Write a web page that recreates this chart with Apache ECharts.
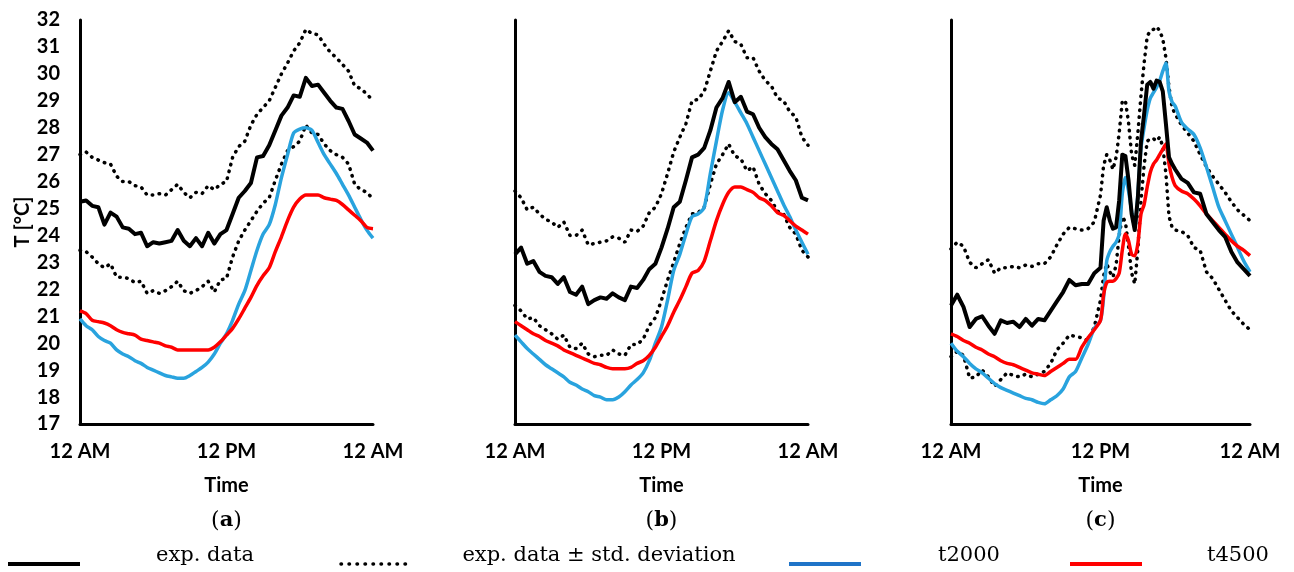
<!DOCTYPE html>
<html>
<head>
<meta charset="utf-8">
<script src="https://cdn.jsdelivr.net/npm/echarts@6/dist/echarts.min.js"></script>
<style>html,body{margin:0;padding:0;background:#fff}#c{width:1294px;height:572px}</style>
</head>
<body>
<div id="c"></div>
<script>
// ---- data ----
const hoursAB = [0,0.5,1,1.5,2,2.5,3,3.5,4,4.5,5,5.5,6,6.5,7,7.5,8,8.5,9,9.5,10,10.5,11,11.5,12,12.5,13,13.5,14,14.5,15,15.5,16,16.5,17,17.5,18,18.5,19,19.5,20,20.5,21,21.5,22,22.5,23,23.5,24];
const hoursC = [0,0.5,1,1.5,2,2.5,3,3.5,4,4.5,5,5.5,6,6.5,7,7.5,8,8.5,9,9.5,10,10.5,11,11.5,12,12.25,12.5,12.75,13,13.25,13.5,13.75,14,14.25,14.5,14.75,15,15.25,15.5,15.75,16,16.25,16.5,16.75,17,17.25,17.5,17.75,18,18.5,19,19.5,20,20.5,21,21.5,22,22.5,23,23.5,24];
const tickLabels = ['12 AM', '12 PM', '12 AM'];
const seriesNames = ['exp. data', 'exp. data ± std. deviation', 't2000', 't4500'];
const panelLetters = ['a', 'b', 'c'];
const yTicks = [17, 32, 1];

// panel (a)
const expA = [25.25,25.3,25.1,25.05,24.4,24.85,24.7,24.3,24.25,24.05,24.1,23.6,23.75,23.7,23.75,23.8,24.2,23.8,23.6,23.9,23.6,24.1,23.7,24.05,24.2,24.8,25.4,25.65,25.95,26.9,26.95,27.35,27.9,28.45,28.75,29.2,29.15,29.85,29.55,29.6,29.3,29.0,28.75,28.7,28.25,27.75,27.6,27.45,27.15];
const upperA = [27.0,27.1,26.9,26.8,26.7,26.65,26.2,26.0,26.0,25.85,25.8,25.5,25.5,25.55,25.5,25.7,25.9,25.6,25.4,25.6,25.55,25.85,25.7,25.9,26.0,26.9,27.3,27.5,28.1,28.5,28.75,29.0,29.5,30.0,30.4,30.85,31.15,31.65,31.5,31.45,31.1,30.8,30.6,30.35,30.1,29.55,29.45,29.25,29.0];
const lowerA = [23.45,23.4,23.2,22.95,22.8,22.95,22.45,22.45,22.4,22.25,22.3,21.85,21.95,21.85,21.95,22.1,22.3,21.95,21.85,21.95,22.1,22.3,21.9,22.35,22.4,23.2,23.8,24.2,24.55,24.9,25.2,25.4,26.05,26.65,27.15,27.3,27.5,28.1,27.8,27.75,27.4,27.15,27.0,26.9,26.65,25.9,25.7,25.6,25.35];
const t2000A = [20.9,20.65,20.5,20.25,20.1,20.0,19.75,19.6,19.5,19.35,19.25,19.1,19.0,18.9,18.8,18.75,18.7,18.7,18.8,18.95,19.1,19.3,19.6,20.0,20.35,20.85,21.45,21.95,22.7,23.45,24.05,24.4,25.15,26.15,27.0,27.8,27.95,28.0,27.9,27.45,27.0,26.65,26.3,25.9,25.5,25.05,24.6,24.2,23.9];
const t4500A = [21.2,21.1,20.85,20.8,20.75,20.65,20.5,20.4,20.35,20.3,20.15,20.1,20.05,20.0,19.9,19.85,19.75,19.75,19.75,19.75,19.75,19.75,19.85,20.05,20.3,20.55,20.9,21.3,21.7,22.15,22.5,22.8,23.4,23.95,24.55,25.05,25.35,25.5,25.5,25.5,25.4,25.35,25.3,25.15,24.95,24.75,24.55,24.3,24.25];

// panel (b)
const expB = [23.3,23.55,22.95,23.05,22.65,22.5,22.45,22.2,22.45,21.9,21.8,22.1,21.45,21.6,21.7,21.65,21.85,21.7,21.6,22.1,22.05,22.35,22.75,22.95,23.55,24.25,25.05,25.25,26.05,26.9,27.0,27.25,27.9,28.75,29.1,29.7,28.95,29.15,28.6,28.5,28.0,27.65,27.4,27.2,26.8,26.4,26.05,25.4,25.3];
const upperB = [25.65,25.4,24.95,25.05,24.8,24.6,24.5,24.3,24.5,24.0,24.0,24.2,23.65,23.7,23.75,23.8,23.95,23.9,23.75,24.2,24.15,24.35,24.85,25.05,25.55,26.3,27.1,27.65,28.15,29.0,29.05,29.35,30.1,30.85,31.2,31.6,31.2,31.1,30.6,30.6,30.1,29.75,29.55,29.1,29.0,28.6,28.4,27.65,27.35];
const lowerB = [21.4,21.2,20.9,20.95,20.65,20.5,20.35,20.15,20.3,19.85,19.8,20.0,19.6,19.5,19.55,19.55,19.75,19.6,19.55,19.95,19.95,20.15,20.65,20.95,21.6,22.35,23.0,23.7,24.3,24.8,24.85,25.05,25.9,26.65,27.0,27.4,26.95,26.85,26.4,26.55,25.9,25.55,25.3,24.9,24.8,24.3,24.05,23.45,23.2];
const t2000B = [20.3,20.05,19.8,19.6,19.4,19.2,19.05,18.9,18.75,18.55,18.45,18.3,18.2,18.05,18.0,17.9,17.9,18.0,18.2,18.45,18.65,18.9,19.35,20.0,20.6,21.6,22.7,23.3,24.05,24.7,24.8,25.05,26.3,27.5,28.65,29.3,28.95,28.55,28.15,27.65,27.15,26.65,26.15,25.65,25.15,24.7,24.2,23.75,23.3];
const t4500B = [20.8,20.65,20.5,20.35,20.25,20.1,20.0,19.9,19.75,19.65,19.55,19.45,19.35,19.25,19.2,19.1,19.05,19.05,19.05,19.1,19.25,19.35,19.55,19.85,20.25,20.65,21.15,21.6,22.1,22.6,22.7,23.05,23.8,24.55,25.15,25.6,25.8,25.8,25.7,25.6,25.4,25.3,25.1,24.85,24.75,24.55,24.35,24.2,24.05];

// panel (c)
const expC = [21.4,21.8,21.35,20.6,20.9,21.0,20.65,20.35,20.85,20.75,20.8,20.6,20.9,20.65,20.9,20.85,21.2,21.55,21.9,22.35,22.15,22.2,22.2,22.6,22.8,24.55,25.05,24.55,24.25,24.3,25.3,27.0,26.95,26.05,24.8,24.2,25.4,27.5,28.5,29.6,29.7,29.45,29.75,29.7,29.35,28.15,26.9,26.65,26.45,26.1,25.95,25.6,25.55,24.8,24.5,24.2,23.95,23.4,23.0,22.75,22.5];
const upperC = [23.5,23.75,23.6,23.0,22.8,22.95,23.1,22.6,22.8,22.8,22.85,22.8,22.9,22.85,22.95,22.95,23.2,23.65,24.05,24.3,24.25,24.2,24.25,24.5,25.5,26.6,27.0,26.8,26.45,26.9,27.8,29.0,29.0,28.2,27.0,26.6,27.8,29.2,30.4,31.4,31.6,31.65,31.75,31.6,31.3,30.6,29.5,28.75,28.5,28.1,27.8,27.5,27.0,26.55,26.2,25.9,25.6,25.25,24.95,24.75,24.55];
const lowerC = [19.5,19.7,19.55,18.7,18.75,19.0,18.75,18.4,18.65,18.9,18.8,18.75,18.85,18.75,18.85,18.95,19.25,19.75,20.0,20.3,20.25,20.2,20.1,20.6,21.6,22.5,22.95,22.65,22.45,22.9,24.0,24.7,24.5,23.6,22.6,22.2,23.5,25.3,26.6,27.5,27.6,27.6,27.5,27.65,27.3,26.3,24.7,24.3,24.2,24.15,24.0,23.55,23.45,22.65,22.4,22.0,21.6,21.2,20.95,20.7,20.5];
const t2000C = [20.0,19.7,19.5,19.25,19.05,18.9,18.7,18.5,18.35,18.25,18.15,18.05,17.95,17.9,17.8,17.75,17.9,18.05,18.3,18.75,18.95,19.45,19.95,20.55,20.85,21.7,23.05,23.4,23.6,23.75,24.05,25.55,26.15,25.65,24.9,24.3,25.55,27.25,28.0,28.65,29.1,29.3,29.5,29.75,30.1,30.4,29.35,28.95,28.8,28.2,27.95,27.75,27.25,26.55,25.8,25.05,24.55,24.05,23.55,23.05,22.65];
const t4500C = [20.35,20.25,20.1,20.0,19.85,19.75,19.6,19.5,19.35,19.25,19.2,19.1,19.0,18.9,18.85,18.8,18.95,19.1,19.25,19.4,19.4,19.85,20.2,20.5,20.85,21.8,22.25,22.3,22.3,22.4,22.6,23.45,24.05,23.8,23.3,23.25,23.7,24.8,25.15,25.8,26.35,26.65,26.8,27.0,27.2,27.4,26.65,26.15,25.85,25.65,25.55,25.35,25.1,24.8,24.55,24.3,24.05,23.8,23.6,23.45,23.25];

// ---- chart ----
const panels = [
  {hours: hoursAB, exp: expA, up: upperA, lo: lowerA, s1: t2000A, s2: t4500A},
  {hours: hoursAB, exp: expB, up: upperB, lo: lowerB, s1: t2000B, s2: t4500B},
  {hours: hoursC,  exp: expC, up: upperC, lo: lowerC, s1: t2000C, s2: t4500C}
];
const COLORS = {exp: '#000000', t2000: '#29a3de', t4500: '#ff0000', legendBlue: '#1f74c8'};
const TICKFONT = 'Lato, "Liberation Sans Narrow", sans-serif';
const SERIF = '"DejaVu Serif", "Liberation Serif", serif';

const gridPos = [
  {left: 80, width: 293},
  {left: 515, width: 293},
  {left: 951, width: 299}
];

const zip = (xs, ys) => xs.map((x, i) => [x, ys[i]]);

const grids = gridPos.map(g => ({left: g.left, width: g.width, top: 20, height: 404, containLabel: false}));
const xAxes = gridPos.map((g, i) => ({
  type: 'value', gridIndex: i, min: 0, max: 24, interval: 12,
  name: 'Time', nameLocation: 'middle', nameGap: 52,
  nameTextStyle: {fontFamily: TICKFONT, fontWeight: 'bold', fontSize: 20, color: '#000'},
  axisLine: {show: true, lineStyle: {color: '#000', width: 3}},
  axisTick: {show: false}, splitLine: {show: false},
  axisLabel: {
    margin: 18, color: '#000', fontFamily: TICKFONT, fontWeight: 'bold', fontSize: 20,
    formatter: v => tickLabels[Math.round(v / 12)]
  }
}));
const yAxes = gridPos.map((g, i) => ({
  type: 'value', gridIndex: i, min: yTicks[0], max: yTicks[1], interval: yTicks[2],
  name: i === 0 ? 'T [°C]' : '', nameLocation: 'middle', nameGap: 40,
  nameTextStyle: {fontFamily: TICKFONT, fontWeight: 'bold', fontSize: 20, color: '#000'},
  axisLine: {show: true, lineStyle: {color: '#000', width: 3}},
  axisTick: {show: false}, splitLine: {show: false},
  axisLabel: {show: i === 0, margin: 20, color: '#000', fontFamily: TICKFONT, fontWeight: 'bold', fontSize: 20}
}));

const series = [];
panels.forEach((p, i) => {
  const base = {type: 'line', xAxisIndex: i, yAxisIndex: i, symbol: 'none', animation: false, silent: true};
  series.push(Object.assign({}, base, {name: seriesNames[1], data: zip(p.hours, p.up), z: 2,
    lineStyle: {color: '#000', width: 3.5, type: [0.5, 6.5], cap: 'round'}}));
  series.push(Object.assign({}, base, {name: seriesNames[1], data: zip(p.hours, p.lo), z: 2,
    lineStyle: {color: '#000', width: 3.5, type: [0.5, 6.5], cap: 'round'}}));
  series.push(Object.assign({}, base, {name: seriesNames[2], data: zip(p.hours, p.s1), z: 3, smooth: 0.25,
    lineStyle: {color: COLORS.t2000, width: 3.5}}));
  series.push(Object.assign({}, base, {name: seriesNames[3], data: zip(p.hours, p.s2), z: 3, smooth: 0.25,
    lineStyle: {color: COLORS.t4500, width: 3.5}}));
  series.push(Object.assign({}, base, {name: seriesNames[0], data: zip(p.hours, p.exp), z: 4,
    lineStyle: {color: COLORS.exp, width: 4, join: 'round'}}));
});

// panel captions
const graphics = [];
gridPos.forEach((g, i) => {
  graphics.push({
    type: 'text', x: g.left + g.width / 2, y: 521,
    style: {
      text: '({b|' + panelLetters[i] + '})', x: 0, y: 0,
      align: 'center', verticalAlign: 'middle',
      font: '22px ' + SERIF, fill: '#000',
      rich: {b: {fontWeight: 'bold', fontSize: 21, fontFamily: SERIF}}
    }
  });
});

// legend row
const legendItems = [
  {x1: 8, x2: 80, color: '#000', width: 4, dash: null, textX: 205},
  {x1: 341, x2: 410, color: '#000', width: 3.5, dash: [0.5, 7.5], textX: 599},
  {x1: 789, x2: 861, color: COLORS.legendBlue, width: 4, dash: null, textX: 969},
  {x1: 1070, x2: 1142, color: COLORS.t4500, width: 4, dash: null, textX: 1238}
];
legendItems.forEach((it, i) => {
  const st = {stroke: it.color, lineWidth: it.width};
  if (it.dash) { st.lineDash = it.dash; st.lineCap = 'round'; }
  graphics.push({type: 'line', shape: {x1: it.x1, y1: 564, x2: it.x2, y2: 564}, style: st, silent: true});
  graphics.push({type: 'text', x: it.textX, y: 556,
    style: {text: seriesNames[i], align: 'center', verticalAlign: 'middle', font: '21px ' + SERIF, fill: '#000'}});
});

const chart = echarts.init(document.getElementById('c'), null, {renderer: 'canvas'});
chart.setOption({
  animation: false,
  backgroundColor: '#fff',
  grid: grids, xAxis: xAxes, yAxis: yAxes, series: series,
  graphic: graphics
});
</script>
</body>
</html>
